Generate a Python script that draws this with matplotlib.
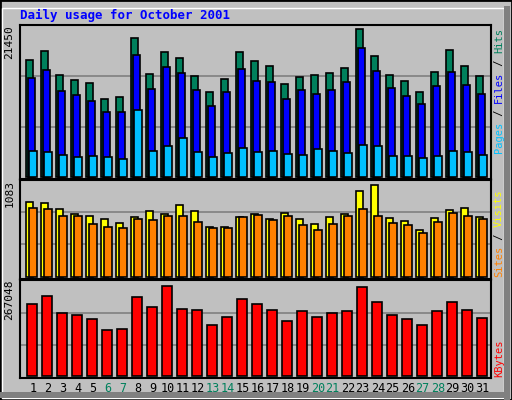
import matplotlib
matplotlib.use('Agg')
import matplotlib.pyplot as plt
from matplotlib.patches import Rectangle
import numpy as np

days = np.arange(1, 32)
weekend = [6, 7, 13, 14, 20, 21, 27, 28]

hits = [16590, 17880, 14440, 13730, 13300, 11150, 11300, 19730, 14590, 17730, 16870,
        14300, 12010, 13870, 17730, 16450, 15730, 13160, 14160, 14440, 14730, 15440,
        21020, 17160, 14440, 13590, 12010, 14870, 18020, 15730, 14300]
files = [14010, 15160, 12160, 11580, 10730, 9300, 9300, 17300, 12440, 15590, 14730,
         12300, 10150, 12010, 15300, 13590, 13440, 11010, 12300, 11730, 12300, 13440,
         18300, 15020, 12580, 11440, 10300, 12870, 14870, 13010, 11730]
pages = [3720, 3580, 3150, 2860, 3000, 2860, 2570, 9580, 3720, 4430, 5580, 3580, 2860,
         3430, 4150, 3580, 3720, 3290, 3150, 4000, 3720, 3430, 4580, 4430, 3000, 3000,
         2720, 3000, 3720, 3580, 3150]
visits = [832, 821, 755, 692, 678, 645, 600, 667, 733, 700, 799, 733, 556, 556, 667, 700,
          645, 711, 645, 589, 667, 700, 954, 1020, 656, 622, 523, 656, 744, 766, 667]
sites = [766, 755, 678, 678, 589, 556, 545, 645, 633, 678, 678, 611, 545, 545, 667, 689,
         633, 678, 578, 523, 589, 678, 755, 678, 600, 578, 490, 611, 711, 678, 645]
kbytes = [203330, 225820, 178030, 172410, 161160, 130240, 133050, 223010, 194900, 256740,
          189270, 186460, 144300, 166790, 217380, 203330, 186460, 155540, 183650, 166790,
          178030, 183650, 253930, 208950, 172410, 161160, 144300, 183650, 208950, 186460,
          163980]

W, H = 512, 400
BG = '#C0C0C0'
fig = plt.figure(figsize=(W / 100, H / 100), dpi=100, facecolor=BG)
font = 'DejaVu Sans Mono'

# outer frame
fig.patches.append(Rectangle((0, 0), 1, 1, transform=fig.transFigure, fill=False,
                             edgecolor='black', lw=2))
fig.patches.append(Rectangle((2 / W, 2 / H), 1 - 10 / W, 1 - 10 / H, transform=fig.transFigure,
                             fill=False, edgecolor='white', lw=1))
fig.patches.append(Rectangle((1 - 8 / W, 0), 6 / W, 1 - 6 / H, transform=fig.transFigure,
                             facecolor='#808080', edgecolor='none'))
fig.patches.append(Rectangle((0, 2 / H), 1 - 2 / W, 6 / H, transform=fig.transFigure,
                             facecolor='#808080', edgecolor='none'))


def panel(top, bottom, ylim, vmax):
    ax = fig.add_axes([20 / W, 1 - bottom / H, 471 / W, (bottom - top) / H], facecolor=BG)
    ax.set_xlim(0.15, 0.15 + 471 / 15)
    ax.set_ylim(*ylim)
    for g in (vmax / 3, 2 * vmax / 3):
        ax.axhline(g, color='#808080', lw=1.2, zorder=0)
    ax.set_xticks([])
    ax.set_yticks([])
    for s in ax.spines.values():
        s.set_linewidth(1.5)
    ax.text(-0.012, 1.0, str(vmax), transform=ax.transAxes, rotation=90, ha='right',
            va='top', fontsize=8, family=font)
    return ax


bar = dict(edgecolor='black', linewidth=1.2, align='edge')

ax1 = panel(25, 179, (-286, 21593), 21450)
ax1.bar(days - 0.45, hits, 0.47, color='#00805C', **bar)
ax1.bar(days - 0.35, files, 0.53, color='#0000FF', **bar)
ax1.bar(days - 0.25, pages, 0.5, color='#00C0FF', **bar)

ax2 = panel(180, 279, (-22, 1072), 1083)
ax2.bar(days - 0.45, visits, 0.47, color='#FFFF00', **bar)
ax2.bar(days - 0.25, sites, 0.5, color='#FF8000', **bar)

ax3 = panel(280, 378, (-5622, 272667), 267048)
ax3.bar(days - 0.38, kbytes, 0.66, color='#FF0000', **bar)

# day labels
for d in days:
    ax3.text(d, -0.04, str(d), transform=ax3.get_xaxis_transform(), ha='center', va='top',
             fontsize=8.5, family=font, color='#00805C' if d in weekend else 'black')

fig.text(20 / W, 1 - 15 / H, 'Daily usage for October 2001', color='#0000FF', fontsize=9,
         fontweight='bold', family=font, va='center')

FS = 7.5
ADV = 0.602 * FS * 100 / 72  # pixels per monospace character


def side_label(y_bottom, parts):
    y = y_bottom
    for txt, col in parts:
        fig.text(499 / W, 1 - y / H, txt, rotation=90, ha='center', va='bottom',
                 fontsize=FS, family=font, color=col)
        y -= len(txt) * ADV


hits_parts = [('Pages', '#00C0FF'), (' / ', 'black'), ('Files', '#0000FF'),
              (' / ', 'black'), ('Hits', '#00805C')]
side_label(28 + 20 * ADV, hits_parts)
side_label(277, [('Sites', '#FF8000'), (' / ', 'black'), ('Visits', '#FFFF00')])
side_label(377, [('KBytes', '#FF0000')])

fig.savefig('out.png', dpi=100, facecolor=BG)
